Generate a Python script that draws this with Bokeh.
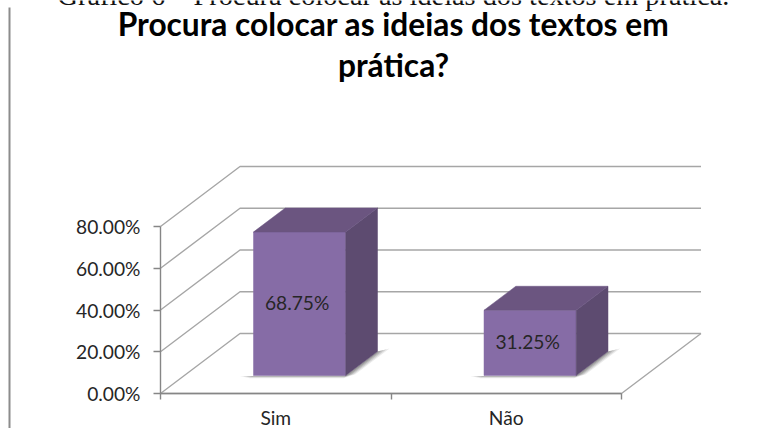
from bokeh.core.properties import value
from bokeh.embed import file_html
from bokeh.models import BoxAnnotation, FixedTicker, Label, LinearAxis, Range1d
from bokeh.plotting import figure
from bokeh.resources import INLINE

categories = ["Sim", "Não"]
shares = [68.75, 31.25]
share_labels = ["68.75%", "31.25%"]
y_ticks = [0, 20, 40, 60, 80]
caption = "Gráfico 6 – Procura colocar as ideias dos textos em prática."
title_lines = ["Procura colocar as ideias dos textos em", "prática?"]

WIDTH, HEIGHT = 763, 428
ORIGIN_X, ORIGIN_Y = 160, 393   # where category 0 and value 0 meet on the canvas
X_UNIT = 230.5            # pixels per category
Y_UNIT = 41.75 / 20       # pixels per percentage point
DEPTH_X = 79.5 / X_UNIT   # oblique shift of the full floor depth, in axis units
DEPTH_Y = 60 / Y_UNIT

GRID = "#a6a6a6"
AXIS = "#868686"
FRONT, TOP, SIDE = "#866ca6", "#6b5580", "#5d4b70"
TEXT = "#262626"
FONT = "Lato"
LABEL_PX = "19.2px"


def project(x, v, d):
    """Oblique projection of category x, value v and depth d (0 front, 1 back)."""
    return x + d * DEPTH_X, v + d * DEPTH_Y


p = figure(
    width=WIDTH, height=HEIGHT, output_backend="svg", toolbar_location=None,
    x_axis_location=None, y_axis_location=None,
    x_range=Range1d(-ORIGIN_X / X_UNIT, (WIDTH - ORIGIN_X) / X_UNIT),
    y_range=Range1d(-(HEIGHT - ORIGIN_Y) / Y_UNIT, ORIGIN_Y / Y_UNIT),
    min_border=0, outline_line_color=None,
)
p.xgrid.visible = False
p.ygrid.visible = False

# Back wall, side wall and floor
n_cat = len(categories)
for v in y_ticks:
    a, b = project(0, v, 0), project(0, v, 1)
    c = project(n_cat, v, 1)
    p.line([a[0], b[0], c[0]], [a[1], b[1], c[1]], line_color=GRID, line_width=1.4)
fr, bk = project(n_cat, 0, 0), project(n_cat, 0, 1)
p.line([0, fr[0], bk[0]], [0, fr[1], bk[1]], line_color=GRID, line_width=1.4)

# Columns, each a box with a soft contact shadow on the floor
for i, s in enumerate(shares):
    x0, x1 = i + 0.3, i + 0.7
    d0, d1 = 0.3, 0.7
    for reach, alpha in ((1.0, 0.14), (0.75, 0.2), (0.5, 0.28), (0.25, 0.36)):
        outline = [
            (x0 - 0.055 * reach, d0 - 0.01),
            (x0, d0 - 0.045 * reach),
            (x1 + 0.005, d0 - 0.045 * reach),
            (x1 + 0.005 + 0.03 * reach, d0 + 0.02),
            (x1 + 0.035 * reach, d1 + 0.05 * reach),
            (x1, d1),
            (x1, d0),
        ]
        sx, sy = zip(*[project(cx, 0, cd) for cx, cd in outline])
        p.patch(list(sx), list(sy), fill_color="#6f6f6f", fill_alpha=alpha, line_color=None)

    faces = [
        (FRONT, [(x0, 0, d0), (x1, 0, d0), (x1, s, d0), (x0, s, d0)]),
        (SIDE, [(x1, 0, d0), (x1, 0, d1), (x1, s, d1), (x1, s, d0)]),
        (TOP, [(x0, s, d0), (x1, s, d0), (x1, s, d1), (x0, s, d1)]),
    ]
    for color, pts in faces:
        fx, fy = zip(*[project(*pt) for pt in pts])
        p.patch(list(fx), list(fy), fill_color=color, line_color=color, line_width=0.5)
    lx, ly = project((x0 + x1) / 2, s / 2, d0)
    p.text([lx], [ly], text=[share_labels[i]], text_font=value(FONT), text_font_size=LABEL_PX,
           text_color=TEXT, text_align="center", text_baseline="middle", x_offset=-2.5, y_offset=-1.5)

# Value axis, pinned at the first category boundary
y_axis = LinearAxis(
    fixed_location=0, ticker=FixedTicker(ticks=y_ticks), bounds=(0, 80),
    axis_line_color=AXIS, axis_line_width=1.4,
    major_tick_line_color=AXIS, major_tick_line_width=1.4, major_tick_in=0, major_tick_out=7,
    minor_tick_line_color=None, major_label_text_font=FONT, major_label_text_font_size=LABEL_PX,
    major_label_text_color=TEXT, major_label_standoff=13,
    major_label_overrides={t: f"{t:.2f}%" for t in y_ticks},
)
p.add_layout(y_axis, "left")

# Category axis: ticks at the category boundaries, names centred between them
tick_axis = LinearAxis(
    fixed_location=0, ticker=FixedTicker(ticks=list(range(n_cat + 1))), bounds=(0, n_cat),
    axis_line_color=AXIS, axis_line_width=1.4, major_tick_line_color=AXIS, major_tick_line_width=1.4,
    major_tick_in=0, major_tick_out=6, minor_tick_line_color=None,
    major_label_overrides={t: "" for t in range(n_cat + 1)}, major_label_standoff=0,
    major_label_text_font_size="1px",
)
p.add_layout(tick_axis, "below")
name_axis = LinearAxis(
    fixed_location=0, ticker=FixedTicker(ticks=[i + 0.5 for i in range(n_cat)]),
    major_label_overrides={i + 0.5: c for i, c in enumerate(categories)},
    axis_line_color=None, major_tick_line_color=None, minor_tick_line_color=None,
    major_tick_in=0, major_tick_out=0, major_label_standoff=12,
    major_label_text_font=FONT, major_label_text_font_size=LABEL_PX, major_label_text_color=TEXT,
)
p.add_layout(name_axis, "below")

# Page margin rule on the left
p.add_layout(BoxAnnotation(left=8, right=10, top=7, bottom=HEIGHT,
                           left_units="canvas", right_units="canvas",
                           top_units="canvas", bottom_units="canvas",
                           fill_color="#8c8c8c", fill_alpha=1, line_color=None))

# Heading texts; screen y counts up from the bottom of the frame
CENTER_X = 393
p.add_layout(Label(x=CENTER_X, y=HEIGHT + 5, x_units="screen", y_units="screen", text=caption,
                   text_font="Liberation Serif", text_font_size="28.3px", text_color="#111111",
                   text_align="center", text_baseline="alphabetic"))
for line, baseline in zip(title_lines, (23, 64)):
    p.add_layout(Label(x=CENTER_X, y=HEIGHT - baseline, x_units="screen", y_units="screen", text=line,
                       text_font=FONT, text_font_style="bold", text_font_size="31.7px",
                       text_color="#000000", text_align="center", text_baseline="alphabetic"))

open("out.html", "w").write(file_html(p, INLINE))
